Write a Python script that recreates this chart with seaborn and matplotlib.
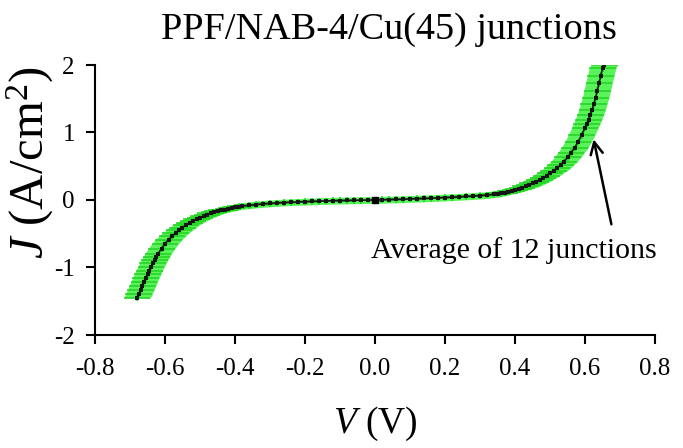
import matplotlib
matplotlib.use("Agg")
import matplotlib.pyplot as plt
import seaborn as sns
import numpy as np
import pandas as pd

# Average J-V curve
voltage = [-0.68, -0.675, -0.67, -0.665, -0.66, -0.655, -0.65, -0.645, -0.64, -0.635,
           -0.63, -0.625, -0.62, -0.61, -0.60, -0.59,
           -0.58, -0.57, -0.56, -0.55, -0.54, -0.53, -0.52, -0.51, -0.50, -0.49,
           -0.48, -0.47, -0.46, -0.45, -0.44, -0.43, -0.42, -0.41, -0.40, -0.39,
           -0.38, -0.36, -0.34, -0.32, -0.30, -0.28, -0.26, -0.24, -0.22, -0.20,
           -0.18, -0.16, -0.14, -0.12, -0.10, -0.08, -0.06, -0.04, -0.02, 0.00,
           0.02, 0.04, 0.06, 0.08, 0.10, 0.12, 0.14, 0.16, 0.18, 0.20,
           0.22, 0.24, 0.26, 0.28, 0.30, 0.32, 0.34, 0.35, 0.36, 0.37,
           0.38, 0.39, 0.40, 0.41, 0.42, 0.43, 0.44, 0.45, 0.46, 0.47,
           0.48, 0.49, 0.50, 0.51, 0.52, 0.53, 0.54, 0.55, 0.56, 0.57,
           0.58, 0.59, 0.60, 0.605, 0.61, 0.615, 0.62, 0.625, 0.63, 0.635,
           0.64, 0.645, 0.65, 0.655]
current = [-1.45, -1.40, -1.34, -1.28, -1.22, -1.16, -1.10, -1.045, -0.99, -0.94,
           -0.89, -0.845, -0.80, -0.72, -0.65, -0.59,
           -0.54, -0.49, -0.45, -0.41, -0.37, -0.34, -0.31, -0.285, -0.26, -0.24,
           -0.22, -0.20, -0.185, -0.17, -0.155, -0.142, -0.13, -0.12, -0.11, -0.10,
           -0.09, -0.078, -0.068, -0.058, -0.05, -0.044, -0.038, -0.033, -0.028, -0.025,
           -0.021, -0.017, -0.014, -0.011, -0.009, -0.007, -0.005, -0.003, -0.001, 0.00,
           0.003, 0.006, 0.009, 0.012, 0.016, 0.019, 0.023, 0.027, 0.031, 0.036,
           0.041, 0.046, 0.052, 0.058, 0.065, 0.074, 0.085, 0.092, 0.10, 0.11,
           0.12, 0.135, 0.15, 0.165, 0.18, 0.20, 0.22, 0.245, 0.27, 0.30,
           0.33, 0.36, 0.40, 0.43, 0.47, 0.52, 0.57, 0.63, 0.70, 0.77,
           0.86, 0.96, 1.07, 1.13, 1.19, 1.26, 1.33, 1.42, 1.51, 1.62,
           1.73, 1.84, 1.95, 2.0]
v_spread = 0.038   # half-width of the green error bars (V)
j_spread = 0.05    # half-height of the green error bars (A/cm^2)

title = "PPF/NAB-4/Cu(45) junctions"
annotation = "Average of 12 junctions"
xticks = [-0.8, -0.6, -0.4, -0.2, 0.0, 0.2, 0.4, 0.6, 0.8]
yticks = [-2, -1, 0, 1, 2]

df = pd.DataFrame({"V": voltage, "J": current})

sns.set_theme(style="ticks")
plt.rcParams["font.family"] = ["Liberation Serif", "DejaVu Serif"]
plt.rcParams["mathtext.fontset"] = "custom"
plt.rcParams["mathtext.rm"] = "Liberation Serif"
plt.rcParams["mathtext.it"] = "Liberation Serif:italic"

fig = plt.figure(figsize=(6.83, 4.48), dpi=100)
ax = fig.add_axes([95 / 683, 1 - 335 / 448, (655 - 95) / 683, (335 - 65) / 448])

band = "#3ef23e"
ax.fill_betweenx(df["J"], df["V"] - v_spread, df["V"] + v_spread,
                 color=band, lw=0, alpha=0.85, zorder=1)
ax.fill_between(df["V"], df["J"] - j_spread, df["J"] + j_spread,
                color=band, lw=0, alpha=0.85, zorder=1)
ax.errorbar(df["V"], df["J"], xerr=v_spread, yerr=j_spread, fmt="none",
            ecolor="#1ed21e", elinewidth=1.2, capsize=0, alpha=0.9, zorder=2)
sns.lineplot(data=df, x="V", y="J", ax=ax, color="#141414", lw=1.2,
             marker="s", markersize=2.4, markeredgewidth=0, sort=False,
             estimator=None, zorder=3)
i0 = voltage.index(0.00)
ax.plot([voltage[i0]], [current[i0]], "s", color="black", markersize=4, zorder=4)

ax.set_xlim(-0.8, 0.8)
ax.set_ylim(-2, 2)
ax.set_xticks(xticks)
ax.set_xticklabels([f"{t:.1f}" for t in xticks])
ax.set_yticks(yticks)
ax.set_yticklabels([str(t) for t in yticks])
ax.tick_params(direction="out", length=6.5, width=1.5, labelsize=18, colors="black")
ax.tick_params(axis="x", pad=10)
ax.tick_params(axis="y", pad=8)
for s in ["top", "right"]:
    ax.spines[s].set_visible(False)
for s in ["left", "bottom"]:
    ax.spines[s].set_linewidth(1.5)
    ax.spines[s].set_color("black")

ax.set_xlabel(r"$V$ (V)", fontsize=27, labelpad=18, color="black")
ax.set_ylabel(r"$J$ (A/cm$^2$)", fontsize=35, color="black", va="center")
ax.yaxis.set_label_coords((30 - 95) / 560, (335 - 163) / 270)
fig.text(389 / 683, 1 - 39 / 448, title, fontsize=27.5, ha="center",
         va="baseline", color="black")

ax.annotate("", xy=(0.623, 0.94), xytext=(0.677, -0.40),
            arrowprops=dict(arrowstyle="->", color="black", lw=1.8,
                            mutation_scale=22), zorder=5)
ax.text(0.396, -0.862, annotation, fontsize=21.5, ha="center", va="baseline",
        color="black")

fig.savefig("out.png", dpi=100)
